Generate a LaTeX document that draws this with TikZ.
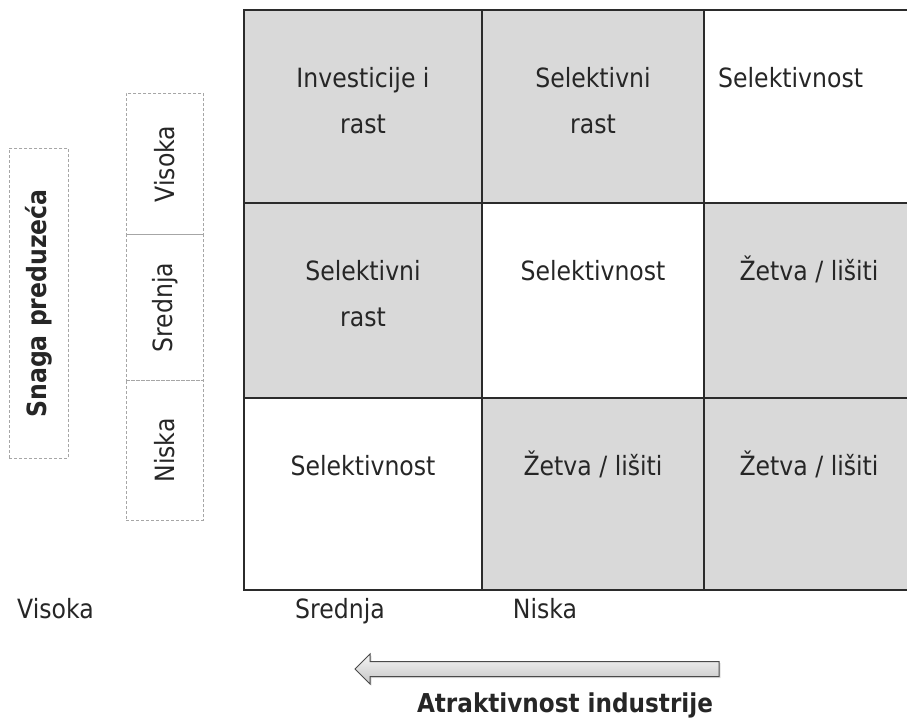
\documentclass[tikz,border=0pt]{standalone}
\usepackage{fontspec}
\usepackage{tikz}
\usetikzlibrary{calc}
\usetikzlibrary{shadows}
\newfontfamily\tahoma[FakeStretch=0.89]{DejaVu Sans}
\definecolor{cellgray}{HTML}{D9D9D9}
\definecolor{gridline}{HTML}{2B2B2B}
\definecolor{dashline}{HTML}{A6A6A6}
\definecolor{arrowline}{HTML}{4A4A4A}

\begin{document}
\begin{tikzpicture}[x=1pt,y=-1pt,
  cell/.style={draw=gridline,line width=1.2pt,anchor=north west,inner sep=0pt,outer sep=0pt},
  shaded cell/.style={cell,fill=cellgray},
  txt/.style={font=\tahoma\fontsize{26.5}{46}\selectfont,align=center,inner sep=0pt,anchor=base,text=black!85},
  lvl/.style={draw=dashline,dash pattern=on 3pt off 2pt,line width=0.8pt,anchor=north west,inner sep=0pt},
  lvl text/.style={txt,rotate=90,anchor=center},
  trend/.style={draw=arrowline,line width=1pt,top color=gray!8,bottom color=gray!45,
    drop shadow={opacity=0.25,shadow xshift=1.5pt,shadow yshift=-1.5pt}}]

\useasboundingbox (0,0) rectangle (907,720);

\node[shaded cell,minimum width=238pt,minimum height=193pt] (c11) at (244,10) {};
\node[shaded cell,minimum width=222pt,minimum height=193pt] (c12) at (482,10) {};
\node[cell,minimum width=210pt,minimum height=193pt] (c13) at (704,10) {};
\node[shaded cell,minimum width=238pt,minimum height=195pt] (c21) at (244,203) {};
\node[cell,minimum width=222pt,minimum height=195pt] (c22) at (482,203) {};
\node[shaded cell,minimum width=210pt,minimum height=195pt] (c23) at (704,203) {};
\node[cell,minimum width=238pt,minimum height=192pt] (c31) at (244,398) {};
\node[shaded cell,minimum width=222pt,minimum height=192pt] (c32) at (482,398) {};
\node[shaded cell,minimum width=210pt,minimum height=192pt] (c33) at (704,398) {};

\node[txt] (t11) at ([yshift=-123pt]c11.north) {Investicije i\\rast};
\node[txt] (t12) at ([yshift=-123pt]c12.north) {Selektivni\\rast};
\node[txt,anchor=base west] (t13) at ([xshift=14pt,yshift=-77pt]c13.north west) {Selektivnost};
\node[txt] (t21) at ([yshift=-123pt]c21.north) {Selektivni\\rast};
\node[txt] (t22) at ([yshift=-77pt]c22.north) {Selektivnost};
\node[txt] (t23) at ([yshift=-77pt]c23.north) {Žetva / lišiti};
\node[txt] (t31) at ([yshift=-77pt]c31.north) {Selektivnost};
\node[txt] (t32) at ([yshift=-77pt]c32.north) {Žetva / lišiti};
\node[txt] (t33) at ([yshift=-77pt]c33.north) {Žetva / lišiti};

\foreach \t/\y/\h [count=\c] in {Visoka/93/141pt,Srednja/234/146pt,Niska/380/140pt}{
  \node[lvl,minimum width=77pt,minimum height=\h] (l\c) at (126,\y) {};
  \node[lvl text] (lt\c) at (l\c) {\t};
}

\node[lvl,minimum width=59pt,minimum height=310pt] (side) at (9,148) {};
\node[lvl text,font=\tahoma\bfseries\fontsize{26.5}{30}\selectfont] (sidet) at (side) {Snaga preduzeća};

\node[txt,anchor=base west] (a1) at (17,618) {Visoka};
\node[txt] (a2) at (340,618) {Srednja};
\node[txt] (a3) at (545,618) {Niska};

\draw[trend] (719,661.5) -- (370,661.5) -- (370,654) -- (355,669) -- (370,684)
  -- (370,676.5) -- (719,676.5) -- cycle;

\node[txt,font=\tahoma\bfseries\fontsize{26}{30}\selectfont] (axis) at (565,712) {Atraktivnost industrije};

\end{tikzpicture}
\end{document}
